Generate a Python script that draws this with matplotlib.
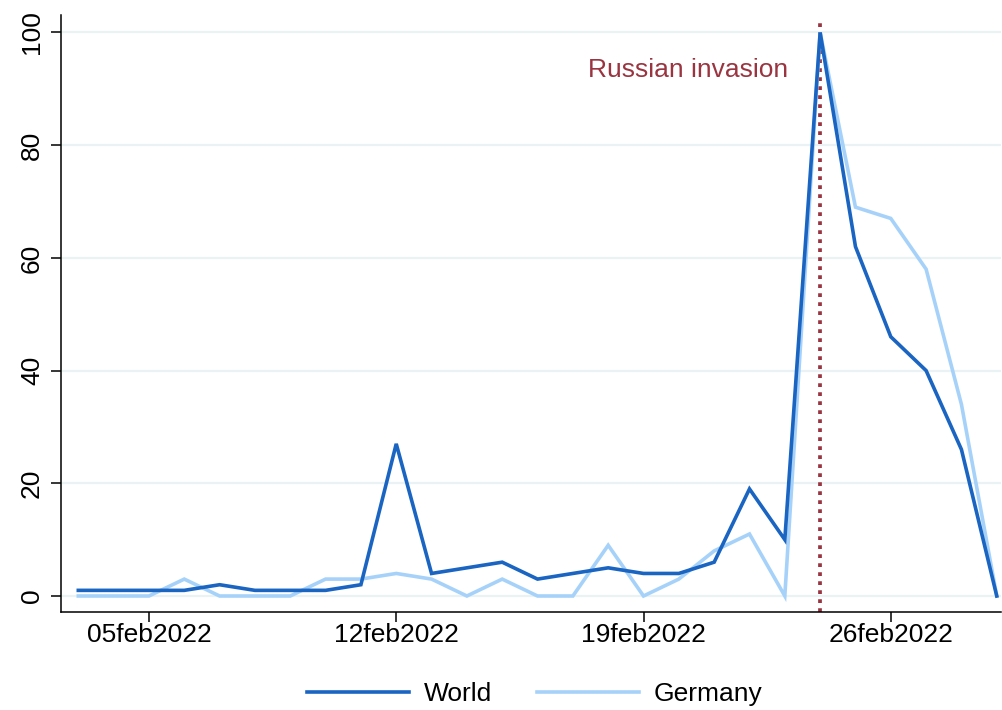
import matplotlib
matplotlib.use("Agg")
import matplotlib.pyplot as plt
import matplotlib.dates as mdates
import numpy as np
import pandas as pd

plt.rcParams['font.family'] = ['Liberation Sans', 'DejaVu Sans']

dates = pd.date_range("2022-02-03", "2022-03-01", freq="D")
world = [1, 1, 1, 1, 2, 1, 1, 1, 2, 27, 4, 5, 6, 3, 4, 5, 4, 4, 6, 19, 10,
         100, 62, 46, 40, 26, 0]
germany = [0, 0, 0, 3, 0, 0, 0, 3, 3, 4, 3, 0, 3, 0, 0, 9, 0, 3, 8, 11, 0,
           100, 69, 67, 58, 34, 0]
event_date = pd.Timestamp("2022-02-24")
event_label = "Russian invasion"
xtick_dates = pd.to_datetime(["2022-02-05", "2022-02-12", "2022-02-19", "2022-02-26"])
yticks = [0, 20, 40, 60, 80, 100]

c_world = "#1a64c2"
c_germany = "#a6d2fa"
c_event = "#9a3440"

ylo, yhi = -2.84, 103.1

fig = plt.figure(figsize=(10.02, 7.10), dpi=100)
ax = fig.add_axes([61/1002, (710-612)/710, (1001-61)/1002, (612-15)/710])

for y in yticks:
    ax.axhline(y, color="#eaf2f3", lw=1.6, zorder=0)

ax.axvline(event_date, ymin=0, ymax=(102.2 - ylo)/(yhi - ylo), color=c_event,
           lw=2.7, linestyle=(0, (1, 1.4)), zorder=1)

lw, = ax.plot(dates, world, color=c_world, lw=2.6, label="World", zorder=3,
              solid_joinstyle="miter")
lg, = ax.plot(dates, germany, color=c_germany, lw=2.6, label="Germany", zorder=2,
              solid_joinstyle="miter")

ax.annotate(event_label, xy=(mdates.date2num(event_date), 92.1),
            xytext=(-32*0.72, 0), textcoords="offset points",
            ha="right", va="baseline", color=c_event, fontsize=19)

x0 = mdates.date2num(dates[0]) - 0.49
x1 = mdates.date2num(dates[-1]) + 0.12
ax.set_xlim(x0, x1)
ax.set_ylim(ylo, yhi)

ax.set_xticks(xtick_dates)
ax.set_xticklabels([d.strftime("%d") + d.strftime("%b").lower() + d.strftime("%Y")
                    for d in xtick_dates])
ax.set_yticks(yticks)
ax.set_yticklabels([str(v) for v in yticks], rotation=90, va="center")

ax.tick_params(axis="both", direction="out", length=7.2, width=1.1,
               labelsize=19, color="black")
ax.tick_params(axis="x", pad=1)
ax.tick_params(axis="y", pad=5)

for s in ["top", "right"]:
    ax.spines[s].set_visible(False)
for s in ["left", "bottom"]:
    ax.spines[s].set_linewidth(1.1)

fig.legend(handles=[lw, lg], loc="center", bbox_to_anchor=(535/1002, (710-694)/710),
           ncol=2, frameon=False, fontsize=19, handlelength=3.85,
           handletextpad=0.58, columnspacing=1.7)

fig.savefig("out.png", dpi=100)
